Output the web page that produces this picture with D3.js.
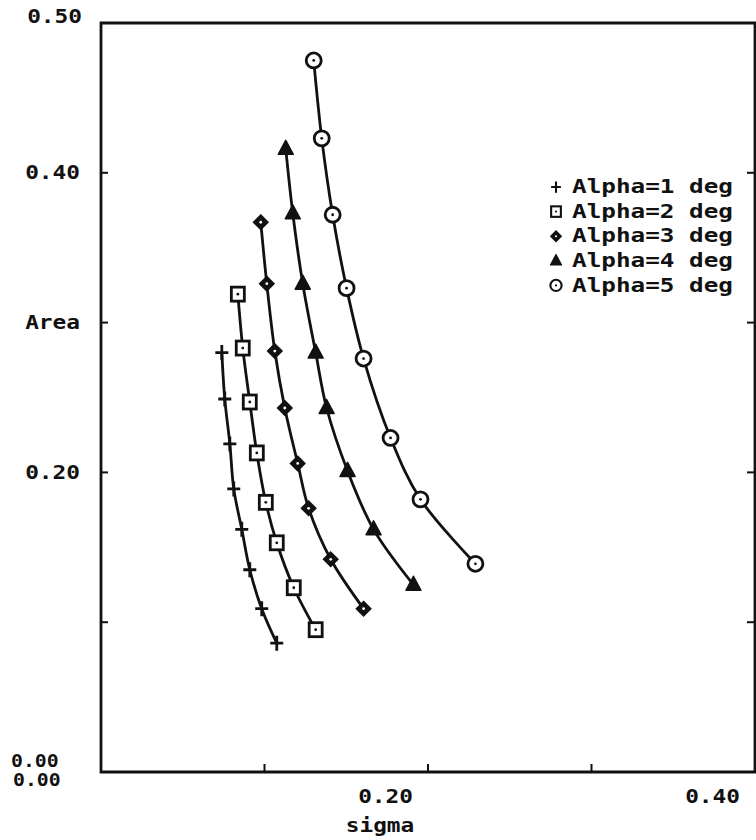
<!DOCTYPE html>
<html>
<head>
<meta charset="utf-8">
<script src="https://cdn.jsdelivr.net/npm/d3@7"></script>
<style>
  html, body { margin: 0; padding: 0; background: #fff; }
  svg { display: block; }
</style>
</head>
<body>
<svg id="chart" width="756" height="840"></svg>
<script>
// Sigma values (x) and area values (y) for each angle of attack
const alpha1Sigma = [0.0739, 0.0757, 0.0788, 0.0812, 0.0861, 0.0910, 0.0983, 0.1075];
const alpha1Area  = [0.280, 0.249, 0.219, 0.189, 0.162, 0.135, 0.109, 0.086];
const alpha2Sigma = [0.0837, 0.0867, 0.0910, 0.0953, 0.1008, 0.1075, 0.1179, 0.1313];
const alpha2Area  = [0.319, 0.283, 0.247, 0.213, 0.180, 0.153, 0.123, 0.095];
const alpha3Sigma = [0.0977, 0.1014, 0.1063, 0.1124, 0.1203, 0.1270, 0.1405, 0.1606];
const alpha3Area  = [0.367, 0.326, 0.281, 0.243, 0.206, 0.176, 0.142, 0.109];
const alpha4Sigma = [0.1130, 0.1173, 0.1234, 0.1313, 0.1380, 0.1508, 0.1667, 0.1911];
const alpha4Area  = [0.416, 0.373, 0.326, 0.280, 0.243, 0.201, 0.162, 0.125];
const alpha5Sigma = [0.1301, 0.1350, 0.1417, 0.1502, 0.1606, 0.1771, 0.1954, 0.2290];
const alpha5Area  = [0.475, 0.423, 0.372, 0.323, 0.276, 0.223, 0.182, 0.139];

const seriesNames = ["Alpha=1 deg", "Alpha=2 deg", "Alpha=3 deg", "Alpha=4 deg", "Alpha=5 deg"];
const seriesMarkers = ["plus", "square", "diamond", "triangle", "circle"];

const xTickValues = [0.0, 0.1, 0.2, 0.3, 0.4];
const xTickLabels = ["0.00", "", "0.20", "", "0.40"];
const yTickValues = [0.0, 0.1, 0.2, 0.3, 0.4, 0.5];
const yTickLabels = ["0.00", "", "0.20", "Area", "0.40", "0.50"];
const xTitle = "sigma";

const series = [
  [alpha1Sigma, alpha1Area],
  [alpha2Sigma, alpha2Area],
  [alpha3Sigma, alpha3Area],
  [alpha4Sigma, alpha4Area],
  [alpha5Sigma, alpha5Area]
].map(([xs, ys], i) => ({
  name: seriesNames[i],
  marker: seriesMarkers[i],
  points: xs.map((x, j) => ({ x, y: ys[j] }))
}));

const svg = d3.select("#chart");
const plot = { left: 101, right: 755, top: 23, bottom: 772 };

const x = d3.scaleLinear().domain([0, 0.4]).range([plot.left, plot.right]);
const y = d3.scaleLinear().domain([0, 0.5]).range([plot.bottom, plot.top]);

const ink = "#111";
const mono = "'DejaVu Sans Mono', 'Liberation Mono', monospace";

// Monospaced, horizontally stretched text in the style of a pen plotter
function label(g, txt, px, py, opts = {}) {
  const size = opts.size || 19;
  const sx = opts.sx || 1.2;
  return g.append("g")
    .attr("transform", `translate(${px},${py}) scale(${sx},1)`)
    .append("text")
    .attr("x", 0).attr("y", 0)
    .attr("font-family", mono)
    .attr("font-size", size)
    .attr("font-weight", opts.weight || "bold")
    .attr("fill", ink)
    .attr("text-anchor", opts.anchor || "start")
    .attr("dominant-baseline", "middle")
    .text(txt);
}

// Frame
svg.append("path")
  .attr("d", `M${plot.right + 1},${plot.top} H${plot.left} V${plot.bottom} H${plot.right} V${plot.top}`)
  .attr("fill", "none").attr("stroke", ink).attr("stroke-width", 2.8)
  .attr("stroke-linecap", "square");

// Inward ticks on left, right and bottom edges
const axisG = svg.append("g").attr("stroke", ink).attr("stroke-width", 2);
axisG.selectAll("line.yl").data(yTickValues.slice(1, -1)).join("line")
  .attr("x1", plot.left).attr("x2", plot.left + 7)
  .attr("y1", d => y(d)).attr("y2", d => y(d));
axisG.selectAll("line.yr").data(yTickValues.slice(1, -1)).join("line")
  .attr("x1", plot.right).attr("x2", plot.right - 8)
  .attr("y1", d => y(d)).attr("y2", d => y(d));
axisG.selectAll("line.xb").data(xTickValues.slice(1, -1)).join("line")
  .attr("x1", d => x(d)).attr("x2", d => x(d))
  .attr("y1", plot.bottom).attr("y2", plot.bottom - 8);

// Tick labels
const labels = svg.append("g");
yTickValues.forEach((v, i) => {
  if (!yTickLabels[i]) return;
  if (v === 0) {
    label(labels, yTickLabels[i], 11, y(v) - 10, { size: 18, sx: 1.1 });
  } else if (v === 0.5) {
    label(labels, yTickLabels[i], 82, y(v) - 5, { anchor: "end" });
  } else {
    label(labels, yTickLabels[i], 80, y(v) + 1, { anchor: "end" });
  }
});
xTickValues.forEach((v, i) => {
  if (!xTickLabels[i]) return;
  if (v === 0) {
    label(labels, xTickLabels[i], 13, plot.bottom + 9, { size: 18, sx: 1.1 });
  } else {
    label(labels, xTickLabels[i], x(v) - 15, plot.bottom + 26, { anchor: "end" });
  }
});
label(labels, xTitle, (x(0.2) - 48), plot.bottom + 55, { anchor: "middle" });

// Curves
const line = d3.line().x(d => x(d.x)).y(d => y(d.y)).curve(d3.curveCatmullRom.alpha(0.5));
svg.append("g").selectAll("path").data(series).join("path")
  .attr("d", d => line(d.points))
  .attr("fill", "none").attr("stroke", ink).attr("stroke-width", 2.8)
  .attr("stroke-linejoin", "round");

// Marker drawing
function drawMarker(g, type, cx, cy) {
  const m = g.append("g").attr("transform", `translate(${cx},${cy})`);
  if (type === "plus") {
    m.append("path").attr("d", "M-6.5,0H6.5M0,-7.5V7.5")
      .attr("stroke", ink).attr("stroke-width", 2.8).attr("fill", "none");
  } else if (type === "square") {
    m.append("rect").attr("x", -6.5).attr("y", -7).attr("width", 13).attr("height", 14)
      .attr("fill", "#fff").attr("stroke", ink).attr("stroke-width", 2.8);
    m.append("circle").attr("r", 1.4).attr("fill", ink);
  } else if (type === "diamond") {
    m.append("path").attr("d", "M0,-7L7,0L0,7L-7,0Z")
      .attr("fill", ink).attr("stroke", ink).attr("stroke-width", 1.8);
    m.append("circle").attr("r", 1.4).attr("fill", "#fff");
  } else if (type === "triangle") {
    m.append("path").attr("d", "M0,-8.5L7.5,5.5L-7.5,5.5Z")
      .attr("fill", ink).attr("stroke", ink).attr("stroke-width", 1.5)
      .attr("stroke-linejoin", "round");
  } else if (type === "circle") {
    m.append("circle").attr("r", 7.5).attr("fill", "#fff")
      .attr("stroke", ink).attr("stroke-width", 2.8);
    m.append("circle").attr("r", 1.4).attr("fill", ink);
  }
}

const markerG = svg.append("g");
series.forEach(s => s.points.forEach(p => drawMarker(markerG, s.marker, x(p.x), y(p.y))));

// Legend
const legend = svg.append("g");
series.forEach((s, i) => {
  const ly = 187 + i * 24.6;
  const lg = legend.append("g");
  const mk = lg.append("g").attr("transform", `translate(556,${ly}) scale(0.75)`);
  drawMarker(mk, s.marker, 0, 0);
  label(lg, s.name, 572, ly + 1, { size: 19, sx: 1.28 });
});
</script>
</body>
</html>
